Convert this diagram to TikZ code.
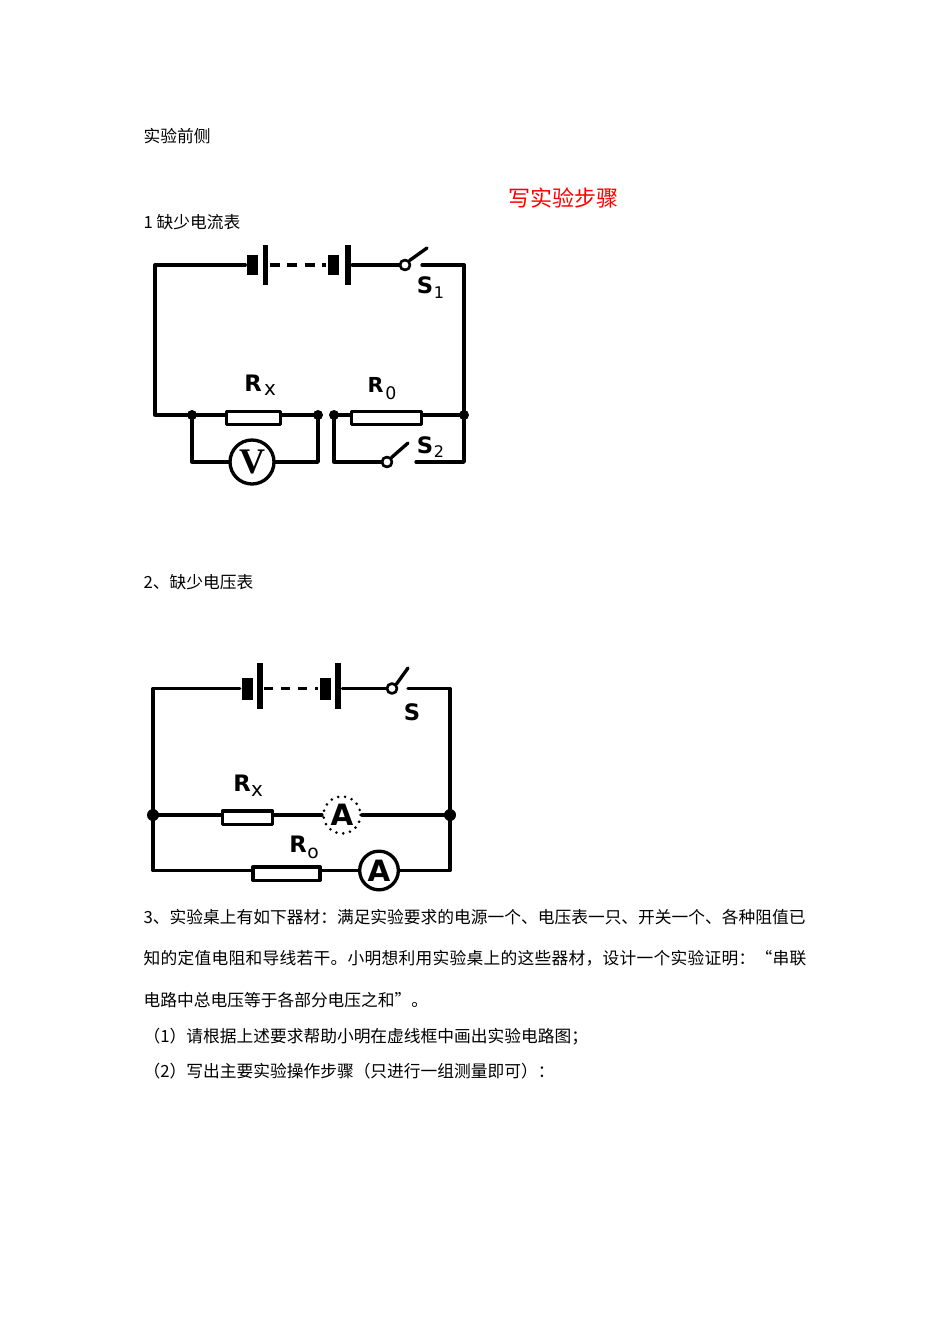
\documentclass[tikz,border=0pt]{standalone}
\usepackage{fontspec}
\setmainfont{Noto Sans CJK SC}
\newfontfamily\markfont{DejaVu Sans}
\newfontfamily\voltfont{Liberation Serif}
\tikzstyle{every node}=[inner sep=0pt,font=\fontsize{12.55}{14}\selectfont]
\tikzstyle{every path}=[line width=2.5pt,line cap=round,line join=round]
\tikzset{
    textline/.style={anchor=base west},
    cellblock/.style={fill=black,minimum width=8.25pt,minimum height=15.5pt},
    cellplate/.style={fill=black,minimum width=4pt,minimum height=30pt},
    rbox/.style={draw,fill=white,minimum width=#1*0.75pt,minimum height=10pt},
    dot/.style={circle,fill=black,minimum size=7.5pt},
    contact/.style={circle,draw,fill=white,line width=2pt,minimum size=7.5pt},
    meter/.style={circle,draw,fill=white,minimum size=29pt,font=\markfont\fontsize{22}{22}\selectfont\bfseries},
    letter/.style={font=\markfont\fontsize{17}{17}\selectfont\bfseries},
}
\begin{document}
\begin{tikzpicture}[x=0.75pt,y=-0.75pt]
    \useasboundingbox (0,0) rectangle (950,1344);
    \fill[white] (0,0) rectangle (950,1344);

    % Text lines
    \node[textline] (head) at (142,143) {实验前侧};
    \node[font=\fontsize{16.5}{18}\selectfont,text=red] (title) at (563,198) {写实验步骤};
    \node[textline] (first) at (142,229) {1 缺少电流表};
    \node[textline] (second) at (142,588) {2、缺少电压表};
    \node[textline] (thirdA) at (142,923) {3、实验桌上有如下器材：满足实验要求的电源一个、电压表一只、开关一个、各种阻值已};
    \node[textline,font=\fontsize{12.55}{14}\selectfont\addfontfeature{LetterSpace=1.6}] (thirdB) at (142,964) {知的定值电阻和导线若干。小明想利用实验桌上的这些器材，设计一个实验证明：“串联};
    \node[textline] (thirdC) at (142,1006) {电路中总电压等于各部分电压之和”。};
    \node[textline] (thirdD) at (142,1042) {（1）请根据上述要求帮助小明在虚线框中画出实验电路图；};
    \node[textline] (thirdE) at (142,1077) {（2）写出主要实验操作步骤（只进行一组测量即可）：};

    % Define named coordinates for first circuit
    \draw (155,265) coordinate (NW)
    (464,265) coordinate (NE)
    (155,415) coordinate (SW)
    (464,415) coordinate (SE)
    (464,462) coordinate (LowE)
    (422,265) coordinate (GapA)
    (427,248) coordinate (TipA)
    (416,462) coordinate (GapB)
    (408,443) coordinate (TipB);

    % Battery of first circuit
    \node [cellblock] (blockA) at (252.5,265) {};
    \node [cellplate] (plateA) at (265.5,265) {};
    \node [cellblock] (blockB) at (333.5,265) {};
    \node [cellplate] (plateB) at (348,265) {};
    \node [contact] (swA) at (405,265) {};

    % Resistors and junctions of first circuit
    \node [rbox=54] (rx) at (253.5,418) {};
    \node [rbox=70] (rzero) at (386.5,418) {};
    \node [dot] (jA) at (192,415) {};
    \node [dot] (jB) at (318,415) {};
    \node [dot] (jC) at (334,415) {};
    \node [dot] (jD) at (464,415) {};
    \node [meter,minimum size=33pt,font=\voltfont\fontsize{27}{27}\selectfont\bfseries] (volt) at (252,462) {V};
    \node [contact] (swB) at (387,462) {};

    % Connections of first circuit
    \draw (blockA.west) -- (NW) -- (SW) -- (rx.west |- SW);
    \draw (rx.east |- jB) -- (jB.center);
    \draw (jC.center) -- (rzero.west |- jC);
    \draw (rzero.east |- SE) -- (SE);
    \draw (plateB.east) -- (swA.west);
    \draw (swA.north east) -- (TipA);
    \draw (GapA) -- (NE) -- (LowE) -- (GapB);
    \draw (jA.center) |- (volt.west);
    \draw (volt.east) -| (jB.center);
    \draw (jC.center) |- (swB.west);
    \draw (swB.north east) -- (TipB);
    \draw [line cap=butt,dash pattern=on 7.5pt off 5.5pt] (plateA.east) -- (blockB.west);

    % Labels of first circuit
    \node [letter] (nameS) at (425,285) {S};
    \node [font=\markfont\fontsize{12}{12}\selectfont] (subS) at (439,293) {1};
    \node [letter] (nameRx) at (253,383) {R};
    \node [font=\markfont\fontsize{15}{15}\selectfont] (subRx) at (270,390) {x};
    \node [letter,font=\markfont\fontsize{15.5}{16}\selectfont\bfseries] (nameRz) at (375.5,385) {R};
    \node [font=\markfont\fontsize{13}{13}\selectfont] (subRz) at (391,393) {0};
    \node [letter] (nameSb) at (425,445) {S};
    \node [font=\markfont\fontsize{12}{12}\selectfont] (subSb) at (439,452) {2};

    % Define named coordinates for second circuit
    \draw (153,688.5) coordinate (NWb)
    (450,688.5) coordinate (NEb)
    (153,870.5) coordinate (SWb)
    (450,870.5) coordinate (SEb)
    (408,688.5) coordinate (GapC)
    (408,668) coordinate (TipC);

    % Battery of second circuit
    \node [cellblock,minimum height=16.5pt] (blockC) at (247,688.5) {};
    \node [cellplate,minimum height=34.5pt] (plateC) at (260,686) {};
    \node [cellblock,minimum height=16.5pt] (blockD) at (325,688.5) {};
    \node [cellplate,minimum height=34.5pt] (plateD) at (338,686) {};
    \node [contact] (swC) at (392,688.5) {};

    % Parts of second circuit
    \node [rbox=50] (rxb) at (247.5,817.5) {};
    \node [rbox=67] (rzb) at (286.5,873.5) {};
    \node [dot,minimum size=9pt] (jE) at (153,815) {};
    \node [dot,minimum size=9pt] (jF) at (450,815) {};
    \node [meter,font=\markfont\fontsize{22}{22}\selectfont\bfseries] (ammB) at (379,870.5) {A};
    \node [circle,minimum size=27.5pt,font=\markfont\fontsize{22}{22}\selectfont\bfseries] (ammA) at (342,815) {A};

    % Connections of second circuit
    \draw (blockC.west) -- (NWb) -- (SWb) -- (rzb.west |- SWb);
    \draw (jE.center) -- (rxb.west |- jE);
    \draw (rxb.east |- jE) -- (ammA.west);
    \draw (ammA.east) -- (jF.center);
    \draw (rzb.east |- SWb) -- (ammB.west);
    \draw (ammB.east) -- (SEb) -- (NEb) -- (GapC);
    \draw (plateD.east |- swC) -- (swC.west);
    \draw (swC.north east) -- (TipC);
    \draw [line cap=butt,dash pattern=on 6.75pt off 6pt] (plateC.east |- blockD) -- (blockD.west);
    \draw [line width=2.2pt,dash pattern=on 0pt off 5.2pt] (ammA) circle [radius=18.5];

    % Labels of second circuit
    \node [letter] (nameSc) at (412,712) {S};
    \node [letter] (nameRxb) at (242,783) {R};
    \node [font=\markfont\fontsize{15}{15}\selectfont] (subRxb) at (257,791) {x};
    \node [letter] (nameRzb) at (298,844) {R};
    \node [font=\markfont\fontsize{14}{14}\selectfont] (subRzb) at (313,853) {o};
\end{tikzpicture}
\end{document}
